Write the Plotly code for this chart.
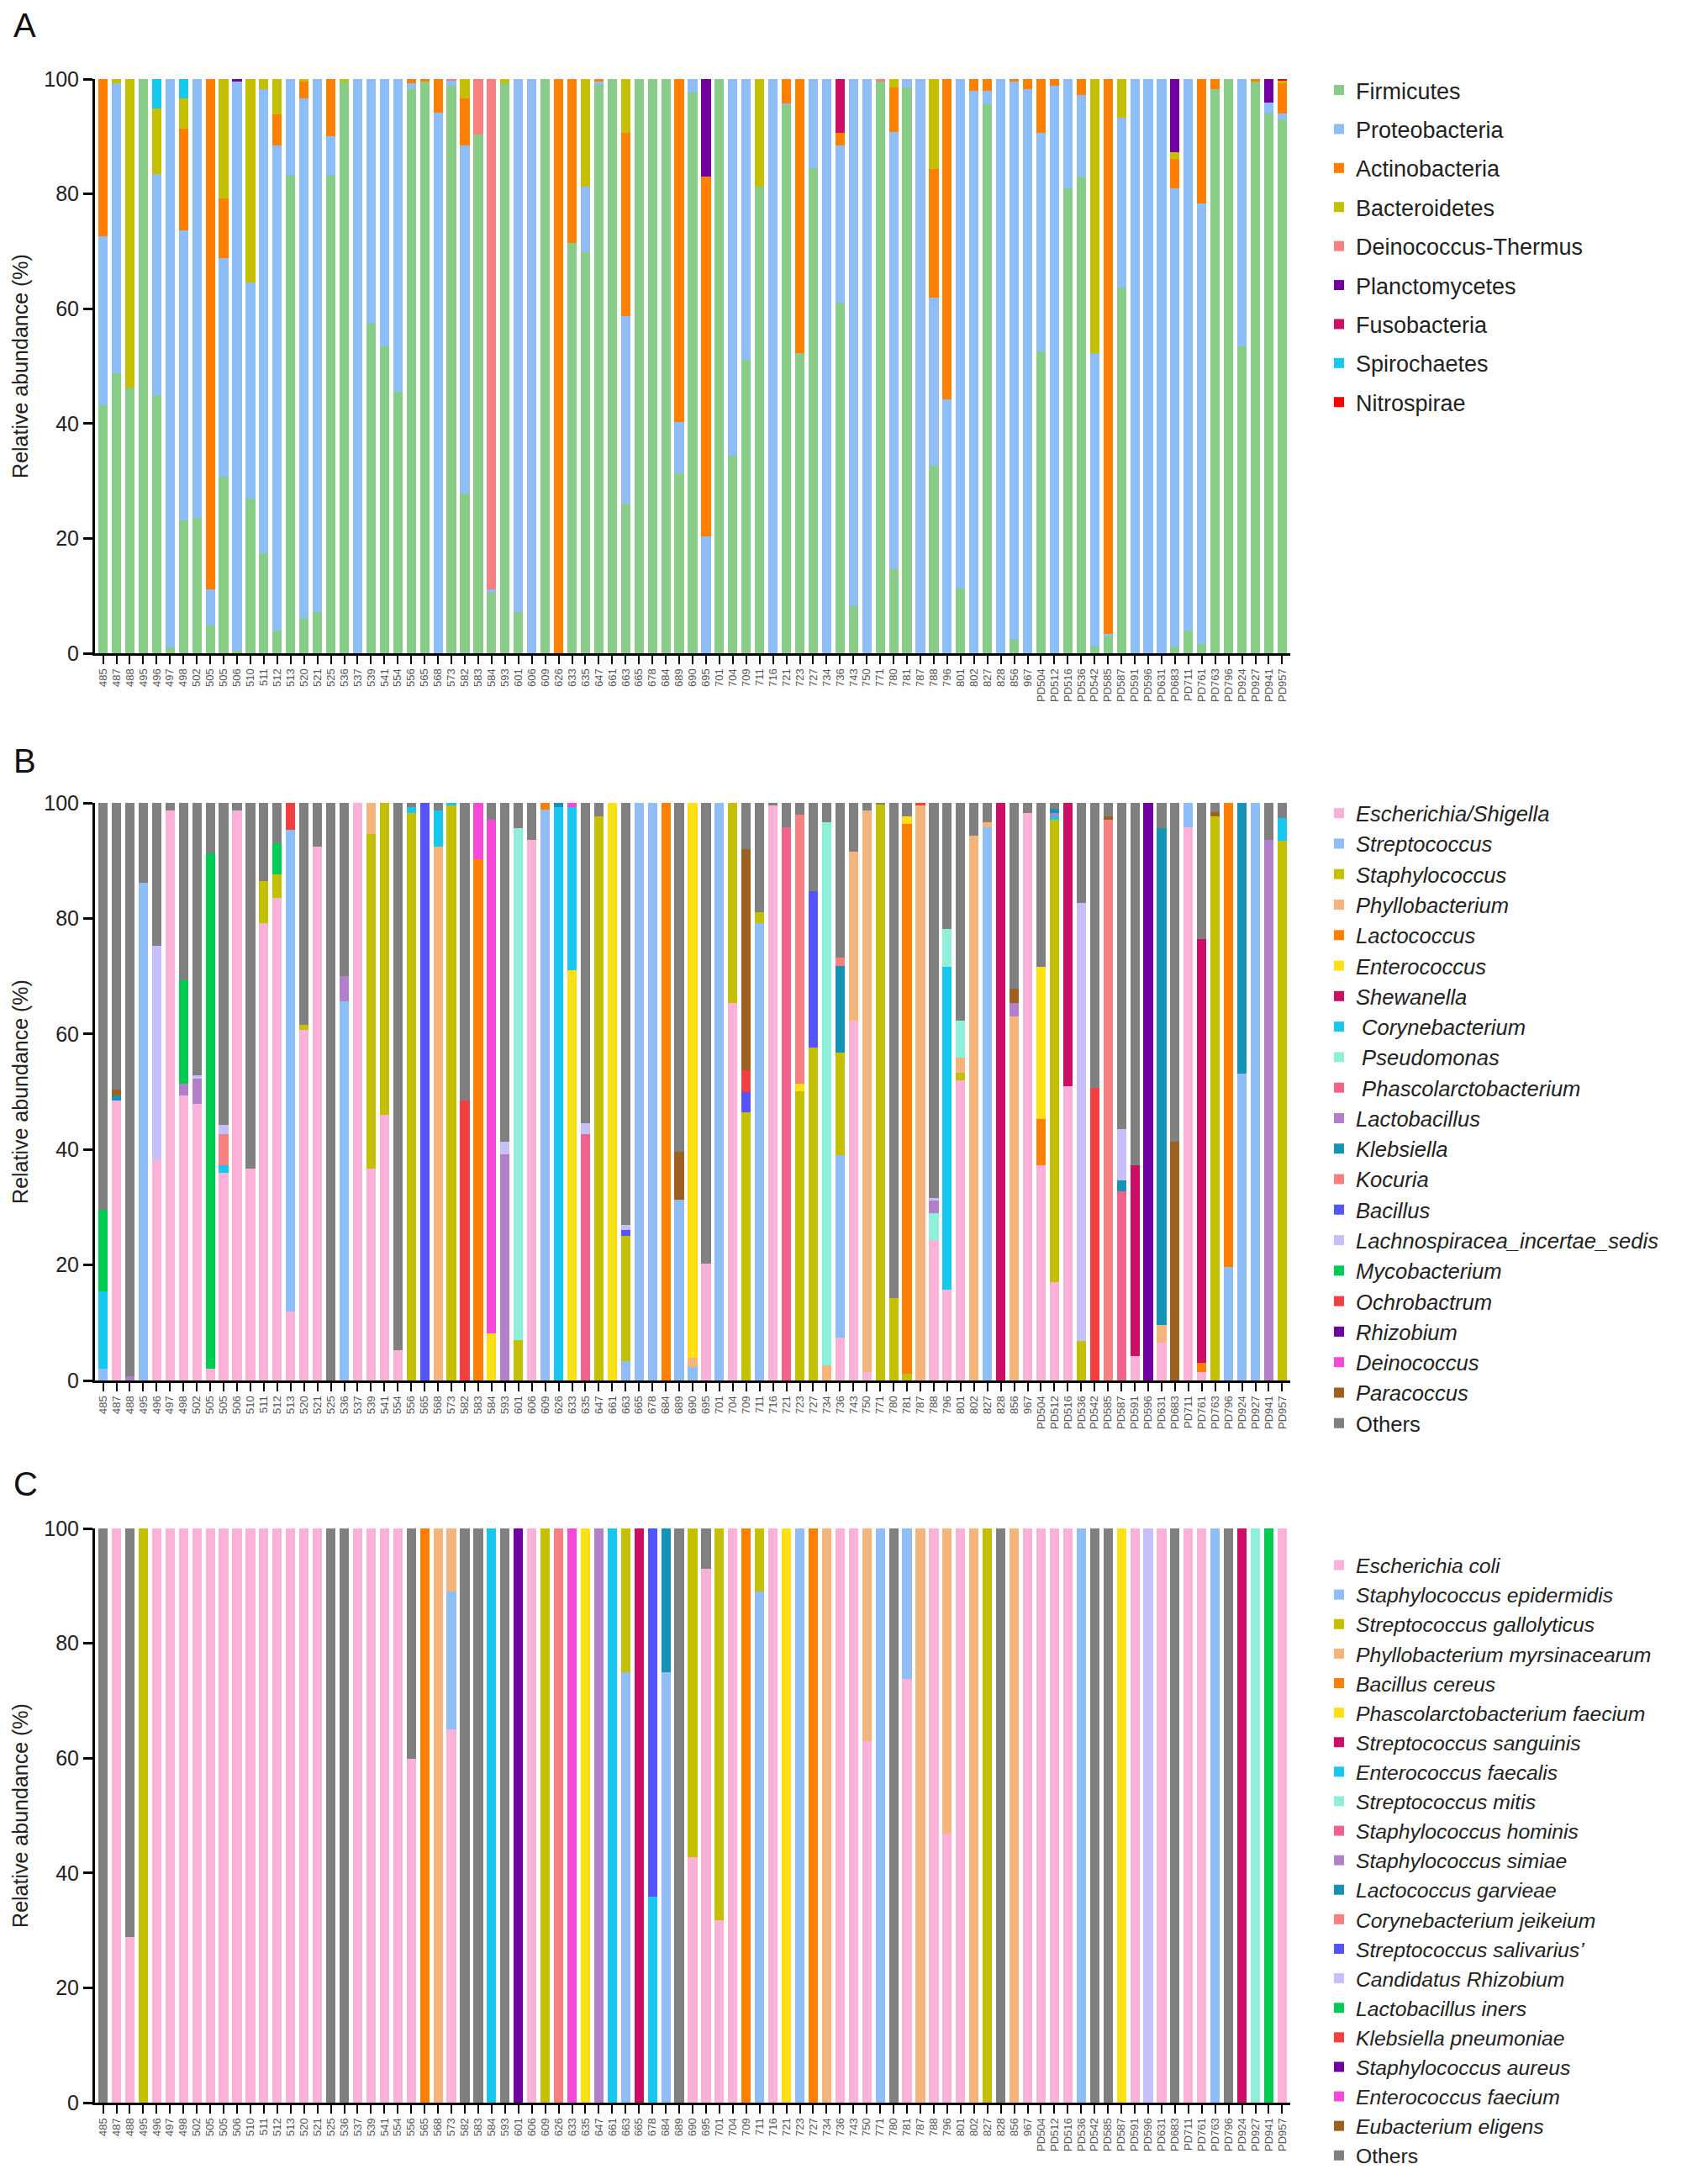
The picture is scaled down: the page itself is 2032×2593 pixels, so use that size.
import plotly.graph_objects as go

# ---------------- sample labels (shared by all three panels) ----------------
samples = [
    "485", "487", "488", "495", "496", "497", "498", "502", "505", "505",
    "506", "510", "511", "512", "513", "520", "521", "525", "536", "537",
    "539", "541", "554", "556", "565", "568", "573", "582", "583", "584",
    "593", "601", "606", "609", "626", "633", "635", "647", "661", "663",
    "665", "678", "684", "689", "690", "695", "701", "704", "709", "711",
    "716", "721", "723", "727", "734", "736", "743", "750", "771", "780",
    "781", "787", "788", "796", "801", "802", "827", "828", "856", "967",
    "PD504", "PD512", "PD516", "PD536", "PD542", "PD585", "PD587", "PD591", "PD596", "PD631",
    "PD683", "PD711", "PD761", "PD763", "PD796", "PD924", "PD927", "PD941", "PD957"]

y_ticks = [0, 20, 40, 60, 80, 100]

# ---------------- Panel A: phylum level ----------------
a_names = ["Firmicutes", "Proteobacteria", "Actinobacteria", "Bacteroidetes",
           "Deinococcus-Thermus", "Planctomycetes", "Fusobacteria", "Spirochaetes", "Nitrospirae"]
a_colors = ["#88cc88", "#8fbdf7", "#ff7f00", "#c4c000", "#f88080",
            "#7000a0", "#cc0f66", "#18c8ec", "#ff0000"]

a_firmicutes = [
    43.2, 48.8, 46.2, 100, 44.9, 1.0, 23.2, 23.6, 4.9, 30.8,
    0.5, 26.9, 17.4, 3.9, 83.2, 6.2, 7.2, 83.2, 99.6, 0,
    57.4, 53.5, 45.6, 98.2, 99.6, 0, 98.9, 27.8, 90.4, 10.5,
    99.2, 7.2, 0, 100, 0, 71.4, 69.9, 99.0, 100, 26.0,
    100, 100, 100, 31.4, 97.6, 0, 100, 34.4, 51.1, 81.2,
    0, 95.4, 52.2, 84.5, 0, 60.9, 8.2, 0, 99.5, 14.7,
    98.6, 0, 32.7, 0, 11.3, 0, 95.6, 0, 2.3, 0,
    52.6, 0, 80.9, 83.0, 1.1, 2.9, 63.7, 0, 0, 0,
    1.1, 3.9, 1.6, 98.2, 100, 53.4, 99.6, 94.0, 93.0]
a_proteobacteria = [
    29.4, 50.4, 0, 0, 38.6, 99.0, 50.5, 76.4, 6.2, 38.0,
    99.0, 37.6, 80.8, 84.5, 16.8, 90.4, 92.8, 6.8, 0, 100,
    42.6, 46.5, 54.4, 1.0, 0, 94.1, 0.8, 60.6, 0, 0.6,
    0, 92.8, 100, 0, 0, 0, 11.3, 0.5, 0, 32.7,
    0, 0, 0, 8.9, 2.4, 20.4, 0, 65.6, 48.9, 0,
    100, 0.4, 0, 15.5, 100, 27.5, 91.8, 100, 0, 76.1,
    1.4, 100, 29.3, 44.2, 88.7, 98.0, 2.4, 100, 97.2, 98.2,
    38.0, 98.9, 19.1, 14.2, 51.1, 0.4, 29.5, 100, 100, 100,
    79.8, 96.1, 76.7, 0, 0, 46.6, 0, 1.9, 1.0]
a_actinobacteria = [
    27.4, 0, 0, 0, 0, 0, 17.7, 0, 88.9, 10.4,
    0, 0, 0, 5.4, 0, 2.9, 0, 10.0, 0, 0,
    0, 0, 0, 0.8, 0.4, 5.9, 0, 8.3, 0, 0,
    0, 0, 0, 0, 100, 28.6, 0, 0.5, 0, 32.0,
    0, 0, 0, 59.7, 0, 62.6, 0, 0, 0, 0,
    0, 4.2, 47.8, 0, 0, 2.3, 0, 0, 0, 7.8,
    0, 0, 22.3, 55.8, 0, 2.0, 2.0, 0, 0.5, 1.8,
    9.4, 1.1, 0, 2.8, 0, 96.7, 0, 0, 0, 0,
    5.2, 0, 21.7, 1.8, 0, 0, 0.4, 0, 5.2]
a_bacteroidetes = [
    0, 0.8, 53.8, 0, 11.4, 0, 5.3, 0, 0, 20.8,
    0, 35.5, 1.8, 6.2, 0, 0.5, 0, 0, 0.4, 0,
    0, 0, 0, 0, 0, 0, 0, 3.3, 0, 0,
    0.8, 0, 0, 0, 0, 0, 18.8, 0, 0, 9.3,
    0, 0, 0, 0, 0, 0, 0, 0, 0, 18.8,
    0, 0, 0, 0, 0, 0, 0, 0, 0, 1.4,
    0, 0, 15.7, 0, 0, 0, 0, 0, 0, 0,
    0, 0, 0, 0, 47.8, 0, 6.8, 0, 0, 0,
    1.2, 0, 0, 0, 0, 0, 0, 0, 0.5]
a_deinococcus_thermus = [
    0, 0, 0, 0, 0, 0, 0, 0, 0, 0,
    0, 0, 0, 0, 0, 0, 0, 0, 0, 0,
    0, 0, 0, 0, 0, 0, 0.3, 0, 9.6, 88.9,
    0, 0, 0, 0, 0, 0, 0, 0, 0, 0,
    0, 0, 0, 0, 0, 0, 0, 0, 0, 0,
    0, 0, 0, 0, 0, 0, 0, 0, 0.5, 0,
    0, 0, 0, 0, 0, 0, 0, 0, 0, 0,
    0, 0, 0, 0, 0, 0, 0, 0, 0, 0,
    0, 0, 0, 0, 0, 0, 0, 0, 0]
a_planctomycetes = [
    0, 0, 0, 0, 0, 0, 0, 0, 0, 0,
    0.5, 0, 0, 0, 0, 0, 0, 0, 0, 0,
    0, 0, 0, 0, 0, 0, 0, 0, 0, 0,
    0, 0, 0, 0, 0, 0, 0, 0, 0, 0,
    0, 0, 0, 0, 0, 17.0, 0, 0, 0, 0,
    0, 0, 0, 0, 0, 0, 0, 0, 0, 0,
    0, 0, 0, 0, 0, 0, 0, 0, 0, 0,
    0, 0, 0, 0, 0, 0, 0, 0, 0, 0,
    12.7, 0, 0, 0, 0, 0, 0, 4.1, 0]
a_fusobacteria = [
    0, 0, 0, 0, 0, 0, 0, 0, 0, 0,
    0, 0, 0, 0, 0, 0, 0, 0, 0, 0,
    0, 0, 0, 0, 0, 0, 0, 0, 0, 0,
    0, 0, 0, 0, 0, 0, 0, 0, 0, 0,
    0, 0, 0, 0, 0, 0, 0, 0, 0, 0,
    0, 0, 0, 0, 0, 9.3, 0, 0, 0, 0,
    0, 0, 0, 0, 0, 0, 0, 0, 0, 0,
    0, 0, 0, 0, 0, 0, 0, 0, 0, 0,
    0, 0, 0, 0, 0, 0, 0, 0, 0]
a_spirochaetes = [
    0, 0, 0, 0, 5.1, 0, 3.3, 0, 0, 0,
    0, 0, 0, 0, 0, 0, 0, 0, 0, 0,
    0, 0, 0, 0, 0, 0, 0, 0, 0, 0,
    0, 0, 0, 0, 0, 0, 0, 0, 0, 0,
    0, 0, 0, 0, 0, 0, 0, 0, 0, 0,
    0, 0, 0, 0, 0, 0, 0, 0, 0, 0,
    0, 0, 0, 0, 0, 0, 0, 0, 0, 0,
    0, 0, 0, 0, 0, 0, 0, 0, 0, 0,
    0, 0, 0, 0, 0, 0, 0, 0, 0]
a_nitrospirae = [
    0, 0, 0, 0, 0, 0, 0, 0, 0, 0,
    0, 0, 0, 0, 0, 0, 0, 0, 0, 0,
    0, 0, 0, 0, 0, 0, 0, 0, 0, 0,
    0, 0, 0, 0, 0, 0, 0, 0, 0, 0,
    0, 0, 0, 0, 0, 0, 0, 0, 0, 0,
    0, 0, 0, 0, 0, 0, 0, 0, 0, 0,
    0, 0, 0, 0, 0, 0, 0, 0, 0, 0,
    0, 0, 0, 0, 0, 0, 0, 0, 0, 0,
    0, 0, 0, 0, 0, 0, 0, 0, 0.3]

# ---------------- Panel B: genus level ----------------
b_names = ["Escherichia/Shigella", "Streptococcus", "Staphylococcus", "Phyllobacterium",
           "Lactococcus", "Enterococcus", "Shewanella", "\u00a0Corynebacterium", "\u00a0Pseudomonas",
           "\u00a0Phascolarctobacterium", "Lactobacillus", "Klebsiella", "Kocuria", "Bacillus",
           "Lachnospiracea_incertae_sedis", "Mycobacterium", "Ochrobactrum", "Rhizobium",
           "Deinococcus", "Paracoccus", "Others"]
palette = ["#fbb1d8", "#8fbdf7", "#c4c000", "#f5b47c", "#ff7f00", "#ffe014", "#cc0f66",
           "#18c8ec", "#8ef0d8", "#f2638c", "#b180c8", "#1592b4", "#f88080", "#5555ff",
           "#c6c0fa", "#00cc55", "#f24040", "#7000a0", "#f848d8", "#9c6020", "#808080"]

b_escherichia = [
    0, 48.4, 0, 0, 38.3, 98.7, 49.4, 47.9, 2.1, 35.9,
    98.7, 36.7, 79.2, 83.6, 12.0, 60.7, 92.5, 0, 0, 100,
    36.7, 46.0, 5.2, 0, 0, 0, 0, 0, 0, 0,
    0, 0, 93.6, 0, 0, 0, 0, 0, 0, 0,
    0, 0, 0, 0, 0, 20.2, 0, 65.3, 0, 0,
    99.5, 0, 0, 0, 0, 7.4, 62.3, 1.4, 0, 0,
    0, 0, 24.3, 15.7, 52.0, 0, 0, 0, 0, 98.2,
    37.3, 17.1, 51.0, 0, 0, 0, 0, 4.2, 0, 6.5,
    0, 95.8, 1.4, 0, 0, 0, 0, 0, 0]
b_streptococcus = [
    2.1, 0, 0, 86.2, 0, 0, 0, 0, 0, 0,
    0, 0, 0, 0, 83.4, 0, 0, 0, 65.7, 0,
    0, 0, 0, 0, 0, 0, 0, 0, 0, 0,
    0, 0, 0, 98.8, 0, 0, 0, 0, 0, 3.3,
    100, 100, 0, 31.3, 2.4, 0, 100, 0, 0, 79.2,
    0, 0, 0, 0, 0, 31.6, 0, 0, 0, 0,
    0, 0, 0, 0, 0, 0, 95.8, 0, 0, 0,
    0, 0, 0, 0, 0, 0, 0, 0, 0, 0,
    0, 4.2, 0, 0, 19.6, 53.1, 100, 0, 0]
b_staphylococcus = [
    0, 0, 0, 0, 0, 0, 0, 0, 0, 0,
    0, 0, 7.2, 4.1, 0, 0.9, 0, 0, 0, 0,
    57.9, 54.0, 0, 98.2, 0, 0, 99.5, 0, 0, 0,
    0, 7.0, 0, 0, 0, 0, 0, 97.7, 0, 21.8,
    0, 0, 0, 0, 0, 0, 0, 34.7, 46.5, 1.9,
    0, 0, 50.1, 57.7, 0, 17.8, 0, 0, 99.7, 14.2,
    1.1, 0, 0, 0, 1.3, 0, 0, 0, 0, 0,
    0, 80.0, 0, 6.8, 0, 0, 0, 0, 0, 0,
    0, 0, 0, 97.7, 0, 0, 0, 0, 93.5]
b_phyllobacterium = [
    0, 0, 0, 0, 0, 0, 0, 0, 0, 0,
    0, 0, 0, 0, 0, 0, 0, 0, 0, 0,
    5.4, 0, 0, 0, 0, 92.5, 0, 0, 0, 0,
    0, 0, 0, 0, 0, 0, 0, 0, 0, 0,
    0, 0, 0, 0, 1.6, 0, 0, 0, 0, 0,
    0, 0, 0, 0, 2.6, 0, 29.3, 97.3, 0, 0,
    0, 99.5, 0, 0, 2.6, 94.3, 0.8, 0, 63.1, 0,
    0, 0, 0, 0, 0, 0, 0, 0, 0, 3.1,
    0, 0, 0, 0, 0, 0, 0, 0, 0]
b_lactococcus = [
    0, 0, 0, 0, 0, 0, 0, 0, 0, 0,
    0, 0, 0, 0, 0, 0, 0, 0, 0, 0,
    0, 0, 0, 0, 0, 0, 0, 0, 90.3, 0,
    0, 0, 0, 1.2, 0, 0, 0, 0, 0, 0,
    0, 0, 100, 0, 0, 0, 0, 0, 0, 0,
    0, 0, 0, 0, 0, 0, 0, 0, 0, 0,
    95.3, 0, 0, 0, 0, 0, 0, 0, 0, 0,
    8.0, 0, 0, 0, 0, 0, 0, 0, 0, 0,
    0, 0, 1.7, 0, 80.4, 0, 0, 0, 0]
b_enterococcus = [
    0, 0, 0, 0, 0, 0, 0, 0, 0, 0,
    0, 0, 0, 0, 0, 0, 0, 0, 0, 0,
    0, 0, 0, 0, 0, 0, 0, 0, 0, 8.1,
    0, 0, 0, 0, 0, 71.1, 0, 0, 100, 0,
    0, 0, 0, 0, 96.0, 0, 0, 0, 0, 0,
    0, 0, 1.3, 0, 0, 0, 0, 0, 0, 0,
    1.3, 0, 0, 0, 0, 0, 0, 0, 0, 0,
    26.3, 0, 0, 0, 0, 0, 0, 0, 0, 0,
    0, 0, 0, 0, 0, 0, 0, 0, 0]
b_shewanella = [
    0, 0, 0, 0, 0, 0, 0, 0, 0, 0,
    0, 0, 0, 0, 0, 0, 0, 0, 0, 0,
    0, 0, 0, 0, 0, 0, 0, 0, 0, 0,
    0, 0, 0, 0, 0, 0, 0, 0, 0, 0,
    0, 0, 0, 0, 0, 0, 0, 0, 0, 0,
    0, 0, 0, 0, 0, 0, 0, 0, 0, 0,
    0, 0, 0, 0, 0, 0, 0, 100, 0, 0,
    0, 0, 49.0, 0, 0, 0, 0, 33.1, 0, 0,
    0, 0, 73.3, 0, 0, 0, 0, 0, 0]
b_corynebacterium = [
    13.4, 0, 0, 0, 0, 0, 0, 0, 0, 1.4,
    0, 0, 0, 0, 0, 0, 0, 0, 0, 0,
    0, 0, 0, 1.1, 0, 6.2, 0.5, 0, 0, 0,
    0, 0, 0, 0, 99.3, 28.2, 0, 0, 0, 0,
    0, 0, 0, 0, 0, 0, 0, 0, 0, 0,
    0, 0, 0, 0, 0, 0, 0, 0, 0, 0,
    0, 0, 0, 55.9, 0, 0, 0, 0, 0, 0,
    0, 0.6, 0, 0, 0, 0, 0, 0, 0, 0,
    0, 0, 0, 0, 0, 0, 0, 0, 3.9]
b_pseudomonas = [
    0, 0, 0, 0, 0, 0, 0, 0, 0, 0,
    0, 0, 0, 0, 0, 0, 0, 0, 0, 0,
    0, 0, 0, 0, 0, 0, 0, 0, 0, 0,
    0, 88.6, 0, 0, 0, 0, 0, 0, 0, 0,
    0, 0, 0, 0, 0, 0, 0, 0, 0, 0,
    0, 0, 0, 0, 94.1, 0, 0, 0, 0, 0,
    0, 0, 4.7, 6.5, 6.4, 0, 0, 0, 0, 0,
    0, 0, 0, 0, 0, 0, 0, 0, 0, 0,
    0, 0, 0, 0, 0, 0, 0, 0, 0]
b_phascolarctobacterium = [
    0, 0, 0, 0, 0, 0, 0, 0, 0, 0,
    0, 0, 0, 0, 0, 0, 0, 0, 0, 0,
    0, 0, 0, 0, 0, 0, 0, 0, 0, 0,
    0, 0, 0, 0, 0, 0, 42.6, 0, 0, 0,
    0, 0, 0, 0, 0, 0, 0, 0, 0, 0,
    0, 95.8, 0, 0, 0, 0, 0, 0, 0, 0,
    0, 0, 0, 0, 0, 0, 0, 0, 0, 0,
    0, 0, 0, 0, 0, 0, 32.8, 0, 0, 0,
    0, 0, 0, 0, 0, 0, 0, 0, 0]
b_lactobacillus = [
    0, 0, 0.8, 0, 0, 0, 2.0, 4.4, 0, 0,
    0, 0, 0, 0, 0, 0, 0, 0, 4.3, 0,
    0, 0, 0, 0, 0, 0, 0, 0, 0, 0,
    39.2, 0, 0, 0, 0, 0, 0, 0, 0, 0,
    0, 0, 0, 0, 0, 0, 0, 0, 0, 0,
    0, 0, 0, 0, 0, 0, 0, 0, 0, 0,
    0, 0, 2.1, 0, 0, 0, 0, 0, 2.3, 0,
    0, 0.5, 0, 0, 0, 0, 0, 0, 0, 0,
    0, 0, 0, 0, 0, 0, 0, 93.6, 0]
b_klebsiella = [
    0, 1.0, 0, 0, 0, 0, 0, 0, 0, 0,
    0, 0, 0, 0, 0, 0, 0, 0, 0, 0,
    0, 0, 0, 0, 0, 0, 0, 0, 0, 0,
    0, 0, 0, 0, 0.7, 0, 0, 0, 0, 0,
    0, 0, 0, 0, 0, 0, 0, 0, 0, 0,
    0, 0, 0, 0, 0, 15.0, 0, 0, 0, 0,
    0, 0, 0, 0, 0, 0, 0, 0, 0, 0,
    0, 0.8, 0, 0, 0, 0, 1.8, 0, 0, 86.0,
    0, 0, 0, 0, 0, 46.9, 0, 0, 0]
b_kocuria = [
    0, 0, 0, 0, 0, 0, 0, 0, 0, 5.4,
    0, 0, 0, 0, 0, 0, 0, 0, 0, 0,
    0, 0, 0, 0, 0, 0, 0, 0, 0, 0,
    0, 0, 0, 0, 0, 0, 0, 0, 0, 0,
    0, 0, 0, 0, 0, 0, 0, 0, 0, 0,
    0, 0, 46.6, 0, 0, 1.4, 0, 0, 0, 0,
    0, 0, 0, 0, 0, 0, 0, 0, 0, 0,
    0, 0, 0, 0, 0, 97.1, 0, 0, 0, 0,
    0, 0, 0, 0, 0, 0, 0, 0, 0]
b_bacillus = [
    0, 0, 0, 0, 0, 0, 0, 0, 0, 0,
    0, 0, 0, 0, 0, 0, 0, 0, 0, 0,
    0, 0, 0, 0, 100, 0, 0, 0, 0, 0,
    0, 0, 0, 0, 0, 0, 0, 0, 0, 1.0,
    0, 0, 0, 0, 0, 0, 0, 0, 3.4, 0,
    0, 0, 0, 27.0, 0, 0, 0, 0, 0, 0,
    0, 0, 0, 0, 0, 0, 0, 0, 0, 0,
    0, 0, 0, 0, 0, 0, 0, 0, 0, 0,
    0, 0, 0, 0, 0, 0, 0, 0, 0]
b_lachnospiracea = [
    0, 0, 0, 0, 36.9, 0, 0, 0.6, 0, 1.5,
    0, 0, 0, 0, 0, 0, 0, 0, 0, 0,
    0, 0, 0, 0, 0, 0, 0, 0, 0, 0,
    2.2, 0, 0, 0, 0, 0, 1.9, 0, 0, 0.9,
    0, 0, 0, 0, 0, 0, 0, 0, 0, 0,
    0, 0, 0, 0, 0, 0, 0, 0, 0, 0,
    0, 0, 0.5, 0, 0, 0, 0, 0, 0, 0,
    0, 0, 0, 75.9, 0, 0, 8.9, 0, 0, 0,
    0, 0, 0, 0, 0, 0, 0, 0, 0]
b_mycobacterium = [
    14.0, 0, 0, 0, 0, 0, 17.9, 0, 89.1, 0,
    0, 0, 0, 5.3, 0, 0, 0, 0, 0, 0,
    0, 0, 0, 0, 0, 0, 0, 0, 0, 0,
    0, 0, 0, 0, 0, 0, 0, 0, 0, 0,
    0, 0, 0, 0, 0, 0, 0, 0, 0, 0,
    0, 0, 0, 0, 0, 0, 0, 0, 0, 0,
    0, 0, 0, 0, 0, 0, 0, 0, 0, 0,
    0, 0, 0, 0, 0, 0, 0, 0, 0, 0,
    0, 0, 0, 0, 0, 0, 0, 0, 0]
b_ochrobactrum = [
    0, 0, 0, 0, 0, 0, 0, 0, 0, 0,
    0, 0, 0, 0, 4.6, 0, 0, 0, 0, 0,
    0, 0, 0, 0, 0, 0, 0, 48.4, 0, 0,
    0, 0, 0, 0, 0, 0, 0, 0, 0, 0,
    0, 0, 0, 0, 0, 0, 0, 0, 3.8, 0,
    0, 0, 0, 0, 0, 0, 0, 0, 0, 0,
    0, 0.5, 0, 0, 0, 0, 0, 0, 0, 0,
    0, 0, 0, 0, 50.7, 0, 0, 0, 0, 0,
    0, 0, 0, 0, 0, 0, 0, 0, 0]
b_rhizobium = [
    0, 0, 0, 0, 0, 0, 0, 0, 0, 0,
    0, 0, 0, 0, 0, 0, 0, 0, 0, 0,
    0, 0, 0, 0, 0, 0, 0, 0, 0, 0,
    0, 0, 0, 0, 0, 0, 0, 0, 0, 0,
    0, 0, 0, 0, 0, 0, 0, 0, 0, 0,
    0, 0, 0, 0, 0, 0, 0, 0, 0, 0,
    0, 0, 0, 0, 0, 0, 0, 0, 0, 0,
    0, 0, 0, 0, 0, 0, 0, 0, 100, 0,
    0, 0, 0, 0, 0, 0, 0, 0, 0]
b_deinococcus = [
    0, 0, 0, 0, 0, 0, 0, 0, 0, 0,
    0, 0, 0, 0, 0, 0, 0, 0, 0, 0,
    0, 0, 0, 0, 0, 0, 0, 0, 9.7, 89.0,
    0, 0, 0, 0, 0, 0.7, 0, 0, 0, 0,
    0, 0, 0, 0, 0, 0, 0, 0, 0, 0,
    0, 0, 0, 0, 0, 0, 0, 0, 0, 0,
    0, 0, 0, 0, 0, 0, 0, 0, 0, 0,
    0, 0, 0, 0, 0, 0, 0, 0, 0, 0,
    0, 0, 0, 0, 0, 0, 0, 0, 0]
b_paracoccus = [
    0, 1.0, 0, 0, 0, 0, 0, 0, 0, 0,
    0, 0, 0, 0, 0, 0, 0, 0, 0, 0,
    0, 0, 0, 0, 0, 0, 0, 0, 0, 0,
    0, 0, 0, 0, 0, 0, 0, 0, 0, 0,
    0, 0, 0, 8.3, 0, 0, 0, 0, 38.3, 0,
    0, 0, 0, 0, 0, 0, 0, 0, 0, 0,
    0, 0, 0, 0, 0, 0, 0, 0, 2.5, 0,
    0, 0, 0, 0, 0, 0.5, 0, 0, 0, 0,
    41.3, 0, 0, 0.7, 0, 0, 0, 0, 0]
b_others = [
    70.5, 49.6, 99.2, 13.8, 24.8, 1.3, 30.7, 47.1, 8.8, 55.8,
    1.3, 63.3, 13.6, 7.0, 0, 38.4, 7.5, 100, 30.0, 0,
    0, 0, 94.8, 0.7, 0, 1.3, 0, 51.6, 0, 2.9,
    58.6, 4.4, 6.4, 0, 0, 0, 55.5, 2.3, 0, 73.0,
    0, 0, 0, 60.4, 0, 79.8, 0, 0, 8.0, 18.9,
    0.5, 4.2, 2.0, 15.3, 3.3, 26.8, 8.4, 1.3, 0.3, 85.8,
    2.3, 0, 68.4, 21.9, 37.7, 5.7, 3.4, 0, 32.1, 1.8,
    28.4, 1.0, 0, 17.3, 49.3, 2.4, 56.5, 62.7, 0, 4.4,
    58.7, 0, 23.6, 1.6, 0, 0, 0, 6.4, 2.6]

# ---------------- Panel C: species level ----------------
c_names = ["Escherichia coli", "Staphylococcus epidermidis", "Streptococcus gallolyticus",
           "Phyllobacterium myrsinacearum", "Bacillus cereus", "Phascolarctobacterium faecium",
           "Streptococcus sanguinis", "Enterococcus faecalis", "Streptococcus mitis",
           "Staphylococcus hominis", "Staphylococcus simiae", "Lactococcus garvieae",
           "Corynebacterium jeikeium", "Streptococcus salivarius\u2019", "Candidatus Rhizobium",
           "Lactobacillus iners", "Klebsiella pneumoniae", "Staphylococcus aureus",
           "Enterococcus faecium", "Eubacterium eligens", "Others"]

c_ecoli = [
    0, 100, 28.9, 0, 100, 100, 100, 100, 100, 100,
    100, 100, 100, 100, 100, 100, 100, 0, 0, 100,
    100, 100, 100, 59.9, 0, 0, 65.0, 0, 0, 0,
    0, 0, 100, 0, 0, 0, 0, 0, 0, 0,
    0, 0, 0, 0, 42.8, 93.0, 31.8, 100, 0, 0,
    100, 0, 0, 0, 0, 100, 100, 63.0, 0, 0,
    73.8, 0, 100, 46.8, 100, 0, 0, 0, 0, 100,
    100, 100, 100, 0, 0, 0, 0, 100, 0, 100,
    0, 100, 100, 0, 0, 0, 0, 0, 100]
c_s_epidermidis = [
    0, 0, 0, 0, 0, 0, 0, 0, 0, 0,
    0, 0, 0, 0, 0, 0, 0, 0, 0, 0,
    0, 0, 0, 0, 0, 0, 24.0, 0, 0, 0,
    0, 0, 0, 0, 0, 0, 0, 0, 0, 75.0,
    0, 0, 75.0, 0, 0, 0, 0, 0, 0, 89.0,
    0, 0, 100, 0, 0, 0, 0, 0, 100, 0,
    26.2, 0, 0, 0, 0, 0, 0, 0, 0, 0,
    0, 0, 0, 100, 0, 0, 0, 0, 0, 0,
    0, 0, 0, 100, 0, 0, 0, 0, 0]
c_s_gallolyticus = [
    0, 0, 0, 100, 0, 0, 0, 0, 0, 0,
    0, 0, 0, 0, 0, 0, 0, 0, 0, 0,
    0, 0, 0, 0, 0, 0, 0, 0, 0, 0,
    0, 0, 0, 100, 0, 0, 0, 0, 0, 25.0,
    0, 0, 0, 0, 57.2, 0, 68.2, 0, 0, 11.0,
    0, 0, 0, 0, 0, 0, 0, 0, 0, 0,
    0, 0, 0, 0, 0, 0, 100, 0, 0, 0,
    0, 0, 0, 0, 0, 0, 0, 0, 0, 0,
    0, 0, 0, 0, 0, 0, 0, 0, 0]
c_p_myrsinacearum = [
    0, 0, 0, 0, 0, 0, 0, 0, 0, 0,
    0, 0, 0, 0, 0, 0, 0, 0, 0, 0,
    0, 0, 0, 0, 0, 100, 11.0, 0, 0, 0,
    0, 0, 0, 0, 0, 0, 0, 0, 0, 0,
    0, 0, 0, 0, 0, 0, 0, 0, 0, 0,
    0, 0, 0, 0, 100, 0, 0, 37.0, 0, 0,
    0, 100, 0, 53.2, 0, 100, 0, 0, 100, 0,
    0, 0, 0, 0, 0, 0, 0, 0, 0, 0,
    0, 0, 0, 0, 0, 0, 0, 0, 0]
c_b_cereus = [
    0, 0, 0, 0, 0, 0, 0, 0, 0, 0,
    0, 0, 0, 0, 0, 0, 0, 0, 0, 0,
    0, 0, 0, 0, 100, 0, 0, 0, 0, 0,
    0, 0, 0, 0, 0, 0, 0, 0, 0, 0,
    0, 0, 0, 0, 0, 0, 0, 0, 100, 0,
    0, 0, 0, 100, 0, 0, 0, 0, 0, 0,
    0, 0, 0, 0, 0, 0, 0, 0, 0, 0,
    0, 0, 0, 0, 0, 0, 0, 0, 0, 0,
    0, 0, 0, 0, 0, 0, 0, 0, 0]
c_p_faecium = [
    0, 0, 0, 0, 0, 0, 0, 0, 0, 0,
    0, 0, 0, 0, 0, 0, 0, 0, 0, 0,
    0, 0, 0, 0, 0, 0, 0, 0, 0, 0,
    0, 0, 0, 0, 0, 0, 100, 0, 0, 0,
    0, 0, 0, 0, 0, 0, 0, 0, 0, 0,
    0, 100, 0, 0, 0, 0, 0, 0, 0, 0,
    0, 0, 0, 0, 0, 0, 0, 0, 0, 0,
    0, 0, 0, 0, 0, 0, 100, 0, 0, 0,
    0, 0, 0, 0, 0, 0, 0, 0, 0]
c_s_sanguinis = [
    0, 0, 0, 0, 0, 0, 0, 0, 0, 0,
    0, 0, 0, 0, 0, 0, 0, 0, 0, 0,
    0, 0, 0, 0, 0, 0, 0, 0, 0, 0,
    0, 0, 0, 0, 0, 0, 0, 0, 0, 0,
    100, 0, 0, 0, 0, 0, 0, 0, 0, 0,
    0, 0, 0, 0, 0, 0, 0, 0, 0, 0,
    0, 0, 0, 0, 0, 0, 0, 0, 0, 0,
    0, 0, 0, 0, 0, 0, 0, 0, 0, 0,
    0, 0, 0, 0, 0, 100, 0, 0, 0]
c_e_faecalis = [
    0, 0, 0, 0, 0, 0, 0, 0, 0, 0,
    0, 0, 0, 0, 0, 0, 0, 0, 0, 0,
    0, 0, 0, 0, 0, 0, 0, 0, 0, 100,
    0, 0, 0, 0, 0, 0, 0, 0, 100, 0,
    0, 35.9, 0, 0, 0, 0, 0, 0, 0, 0,
    0, 0, 0, 0, 0, 0, 0, 0, 0, 0,
    0, 0, 0, 0, 0, 0, 0, 0, 0, 0,
    0, 0, 0, 0, 0, 0, 0, 0, 0, 0,
    0, 0, 0, 0, 0, 0, 0, 0, 0]
c_s_mitis = [
    0, 0, 0, 0, 0, 0, 0, 0, 0, 0,
    0, 0, 0, 0, 0, 0, 0, 0, 0, 0,
    0, 0, 0, 0, 0, 0, 0, 0, 0, 0,
    0, 0, 0, 0, 0, 0, 0, 0, 0, 0,
    0, 0, 0, 0, 0, 0, 0, 0, 0, 0,
    0, 0, 0, 0, 0, 0, 0, 0, 0, 0,
    0, 0, 0, 0, 0, 0, 0, 0, 0, 0,
    0, 0, 0, 0, 0, 0, 0, 0, 0, 0,
    0, 0, 0, 0, 0, 0, 100, 0, 0]
c_s_hominis = [
    0, 0, 0, 0, 0, 0, 0, 0, 0, 0,
    0, 0, 0, 0, 0, 0, 0, 0, 0, 0,
    0, 0, 0, 0, 0, 0, 0, 0, 0, 0,
    0, 0, 0, 0, 0, 0, 0, 0, 0, 0,
    0, 0, 0, 0, 0, 0, 0, 0, 0, 0,
    0, 0, 0, 0, 0, 0, 0, 0, 0, 0,
    0, 0, 0, 0, 0, 0, 0, 0, 0, 0,
    0, 0, 0, 0, 0, 0, 0, 0, 0, 0,
    0, 0, 0, 0, 0, 0, 0, 0, 0]
c_s_simiae = [
    0, 0, 0, 0, 0, 0, 0, 0, 0, 0,
    0, 0, 0, 0, 0, 0, 0, 0, 0, 0,
    0, 0, 0, 0, 0, 0, 0, 0, 0, 0,
    0, 0, 0, 0, 0, 0, 0, 100, 0, 0,
    0, 0, 0, 0, 0, 0, 0, 0, 0, 0,
    0, 0, 0, 0, 0, 0, 0, 0, 0, 0,
    0, 0, 0, 0, 0, 0, 0, 0, 0, 0,
    0, 0, 0, 0, 0, 0, 0, 0, 0, 0,
    0, 0, 0, 0, 0, 0, 0, 0, 0]
c_l_garvieae = [
    0, 0, 0, 0, 0, 0, 0, 0, 0, 0,
    0, 0, 0, 0, 0, 0, 0, 0, 0, 0,
    0, 0, 0, 0, 0, 0, 0, 0, 0, 0,
    0, 0, 0, 0, 0, 0, 0, 0, 0, 0,
    0, 0, 25.0, 0, 0, 0, 0, 0, 0, 0,
    0, 0, 0, 0, 0, 0, 0, 0, 0, 0,
    0, 0, 0, 0, 0, 0, 0, 0, 0, 0,
    0, 0, 0, 0, 0, 0, 0, 0, 0, 0,
    0, 0, 0, 0, 0, 0, 0, 0, 0]
c_c_jeikeium = [
    0, 0, 0, 0, 0, 0, 0, 0, 0, 0,
    0, 0, 0, 0, 0, 0, 0, 0, 0, 0,
    0, 0, 0, 0, 0, 0, 0, 0, 0, 0,
    0, 0, 0, 0, 100, 0, 0, 0, 0, 0,
    0, 0, 0, 0, 0, 0, 0, 0, 0, 0,
    0, 0, 0, 0, 0, 0, 0, 0, 0, 0,
    0, 0, 0, 0, 0, 0, 0, 0, 0, 0,
    0, 0, 0, 0, 0, 0, 0, 0, 0, 0,
    0, 0, 0, 0, 0, 0, 0, 0, 0]
c_s_salivarius = [
    0, 0, 0, 0, 0, 0, 0, 0, 0, 0,
    0, 0, 0, 0, 0, 0, 0, 0, 0, 0,
    0, 0, 0, 0, 0, 0, 0, 0, 0, 0,
    0, 0, 0, 0, 0, 0, 0, 0, 0, 0,
    0, 64.1, 0, 0, 0, 0, 0, 0, 0, 0,
    0, 0, 0, 0, 0, 0, 0, 0, 0, 0,
    0, 0, 0, 0, 0, 0, 0, 0, 0, 0,
    0, 0, 0, 0, 0, 0, 0, 0, 0, 0,
    0, 0, 0, 0, 0, 0, 0, 0, 0]
c_candidatus_rhizobium = [
    0, 0, 0, 0, 0, 0, 0, 0, 0, 0,
    0, 0, 0, 0, 0, 0, 0, 0, 0, 0,
    0, 0, 0, 0, 0, 0, 0, 0, 0, 0,
    0, 0, 0, 0, 0, 0, 0, 0, 0, 0,
    0, 0, 0, 0, 0, 0, 0, 0, 0, 0,
    0, 0, 0, 0, 0, 0, 0, 0, 0, 0,
    0, 0, 0, 0, 0, 0, 0, 0, 0, 0,
    0, 0, 0, 0, 0, 0, 0, 0, 100, 0,
    0, 0, 0, 0, 0, 0, 0, 0, 0]
c_l_iners = [
    0, 0, 0, 0, 0, 0, 0, 0, 0, 0,
    0, 0, 0, 0, 0, 0, 0, 0, 0, 0,
    0, 0, 0, 0, 0, 0, 0, 0, 0, 0,
    0, 0, 0, 0, 0, 0, 0, 0, 0, 0,
    0, 0, 0, 0, 0, 0, 0, 0, 0, 0,
    0, 0, 0, 0, 0, 0, 0, 0, 0, 0,
    0, 0, 0, 0, 0, 0, 0, 0, 0, 0,
    0, 0, 0, 0, 0, 0, 0, 0, 0, 0,
    0, 0, 0, 0, 0, 0, 0, 100, 0]
c_k_pneumoniae = [
    0, 0, 0, 0, 0, 0, 0, 0, 0, 0,
    0, 0, 0, 0, 0, 0, 0, 0, 0, 0,
    0, 0, 0, 0, 0, 0, 0, 0, 0, 0,
    0, 0, 0, 0, 0, 0, 0, 0, 0, 0,
    0, 0, 0, 0, 0, 0, 0, 0, 0, 0,
    0, 0, 0, 0, 0, 0, 0, 0, 0, 0,
    0, 0, 0, 0, 0, 0, 0, 0, 0, 0,
    0, 0, 0, 0, 0, 0, 0, 0, 0, 0,
    0, 0, 0, 0, 0, 0, 0, 0, 0]
c_s_aureus = [
    0, 0, 0, 0, 0, 0, 0, 0, 0, 0,
    0, 0, 0, 0, 0, 0, 0, 0, 0, 0,
    0, 0, 0, 0, 0, 0, 0, 0, 0, 0,
    0, 100, 0, 0, 0, 0, 0, 0, 0, 0,
    0, 0, 0, 0, 0, 0, 0, 0, 0, 0,
    0, 0, 0, 0, 0, 0, 0, 0, 0, 0,
    0, 0, 0, 0, 0, 0, 0, 0, 0, 0,
    0, 0, 0, 0, 0, 0, 0, 0, 0, 0,
    0, 0, 0, 0, 0, 0, 0, 0, 0]
c_e_faecium = [
    0, 0, 0, 0, 0, 0, 0, 0, 0, 0,
    0, 0, 0, 0, 0, 0, 0, 0, 0, 0,
    0, 0, 0, 0, 0, 0, 0, 0, 0, 0,
    0, 0, 0, 0, 0, 100, 0, 0, 0, 0,
    0, 0, 0, 0, 0, 0, 0, 0, 0, 0,
    0, 0, 0, 0, 0, 0, 0, 0, 0, 0,
    0, 0, 0, 0, 0, 0, 0, 0, 0, 0,
    0, 0, 0, 0, 0, 0, 0, 0, 0, 0,
    0, 0, 0, 0, 0, 0, 0, 0, 0]
c_e_eligens = [
    0, 0, 0, 0, 0, 0, 0, 0, 0, 0,
    0, 0, 0, 0, 0, 0, 0, 0, 0, 0,
    0, 0, 0, 0, 0, 0, 0, 0, 0, 0,
    0, 0, 0, 0, 0, 0, 0, 0, 0, 0,
    0, 0, 0, 0, 0, 0, 0, 0, 0, 0,
    0, 0, 0, 0, 0, 0, 0, 0, 0, 0,
    0, 0, 0, 0, 0, 0, 0, 0, 0, 0,
    0, 0, 0, 0, 0, 0, 0, 0, 0, 0,
    0, 0, 0, 0, 0, 0, 0, 0, 0]
c_others = [
    100, 0, 71.1, 0, 0, 0, 0, 0, 0, 0,
    0, 0, 0, 0, 0, 0, 0, 100, 100, 0,
    0, 0, 0, 40.1, 0, 0, 0, 100, 100, 0,
    100, 0, 0, 0, 0, 0, 0, 0, 0, 0,
    0, 0, 0, 100, 0, 7.0, 0, 0, 0, 0,
    0, 0, 0, 0, 0, 0, 0, 0, 0, 100,
    0, 0, 0, 0, 0, 0, 0, 100, 0, 0,
    0, 0, 0, 0, 100, 100, 0, 0, 0, 0,
    100, 0, 0, 0, 100, 0, 0, 0, 0]

a_series = [a_firmicutes, a_proteobacteria, a_actinobacteria, a_bacteroidetes,
            a_deinococcus_thermus, a_planctomycetes, a_fusobacteria, a_spirochaetes, a_nitrospirae]
b_series = [b_escherichia, b_streptococcus, b_staphylococcus, b_phyllobacterium, b_lactococcus,
            b_enterococcus, b_shewanella, b_corynebacterium, b_pseudomonas, b_phascolarctobacterium,
            b_lactobacillus, b_klebsiella, b_kocuria, b_bacillus, b_lachnospiracea, b_mycobacterium,
            b_ochrobactrum, b_rhizobium, b_deinococcus, b_paracoccus, b_others]
c_series = [c_ecoli, c_s_epidermidis, c_s_gallolyticus, c_p_myrsinacearum, c_b_cereus, c_p_faecium,
            c_s_sanguinis, c_e_faecalis, c_s_mitis, c_s_hominis, c_s_simiae, c_l_garvieae,
            c_c_jeikeium, c_s_salivarius, c_candidatus_rhizobium, c_l_iners, c_k_pneumoniae,
            c_s_aureus, c_e_faecium, c_e_eligens, c_others]

# ---------------- figure ----------------
W, H = 2032, 2593
FONT = "Liberation Sans, Arial, Helvetica, sans-serif"
xpos = list(range(len(samples)))

fig = go.Figure()


def add_panel(names, colors, series, axis_suffix, legend_id, italic, grouped):
    for name, color, vals in zip(names, colors, series):
        label = name if (not italic or name == "Others") else "<i>" + name + "</i>"
        fig.add_trace(go.Bar(
            x=xpos, y=vals, name=label,
            marker=dict(color=color, line=dict(width=0)),
            width=0.7,
            xaxis="x" + axis_suffix, yaxis="y" + axis_suffix,
            legend=legend_id,
            legendgroup=(legend_id + name) if grouped else None,
            hovertemplate="%{y}<extra>" + name.strip() + "</extra>"))


add_panel(a_names, a_colors, a_series, "", "legend", False, True)
add_panel(b_names, palette, b_series, "2", "legend2", True, False)
add_panel(c_names, palette, c_series, "3", "legend3", True, False)

x_domain = [113 / W, 1535 / W]
# plot area (top, bottom) in page pixels for each panel
rows = [(94, 777), (955, 1642), (1818, 2501)]

layout = dict(
    width=W, height=H,
    margin=dict(l=0, r=0, t=0, b=0, autoexpand=False),
    paper_bgcolor="white", plot_bgcolor="white",
    barmode="stack",
    font=dict(family=FONT, color="#222222"),
    showlegend=True,
)

for i, (top, bot) in enumerate(rows):
    sfx = "" if i == 0 else str(i + 1)
    layout["xaxis" + sfx] = dict(
        domain=x_domain, anchor="y" + sfx, automargin=False,
        range=[-0.6, len(samples) - 0.4],
        tickmode="array", tickvals=xpos, ticktext=samples,
        tickangle=-90, tickfont=dict(size=13, color="#555555", family=FONT),
        ticks="outside", ticklen=10, tickwidth=2, tickcolor="black",
        showline=True, linewidth=3, linecolor="black",
        showgrid=False, zeroline=False, fixedrange=True)
    layout["yaxis" + sfx] = dict(
        domain=[1 - bot / H, 1 - top / H], anchor="x" + sfx, automargin=False,
        range=[0, 100], tickmode="array", tickvals=y_ticks,
        tickfont=dict(size=25, color="#222222", family=FONT),
        ticks="outside", ticklen=11, tickwidth=3, tickcolor="black",
        showline=True, linewidth=3, linecolor="black",
        showgrid=False, zeroline=False, fixedrange=True,
        title=dict(text="Relative abundance (%)", font=dict(size=25, color="#222222", family=FONT),
                   standoff=12))

legend_common = dict(xanchor="left", yanchor="top", bgcolor="rgba(0,0,0,0)",
                     borderwidth=0, itemclick=False, itemdoubleclick=False)
layout["legend"] = dict(x=1573 / W, y=1 - 83 / H, font=dict(size=27, color="#222222", family=FONT),
                        traceorder="grouped", tracegroupgap=8.3, **legend_common)
layout["legend2"] = dict(x=1573 / W, y=1 - 944 / H, font=dict(size=25.6, color="#222222", family=FONT),
                         traceorder="normal", **legend_common)
layout["legend3"] = dict(x=1573 / W, y=1 - 1839 / H, font=dict(size=24.7, color="#222222", family=FONT),
                         traceorder="normal", **legend_common)

panel_letters = [("A", 30), ("B", 905), ("C", 1765)]
layout["annotations"] = [
    dict(text=t, x=14 / W, y=1 - yy / H, xref="paper", yref="paper",
         xanchor="left", yanchor="middle", showarrow=False,
         font=dict(size=40, color="#111111", family=FONT))
    for t, yy in panel_letters]

fig.update_layout(**layout)
fig.write_html("out.html", config={"displayModeBar": False},
               post_script="document.body.style.margin='0px';document.body.style.overflow='hidden';")
